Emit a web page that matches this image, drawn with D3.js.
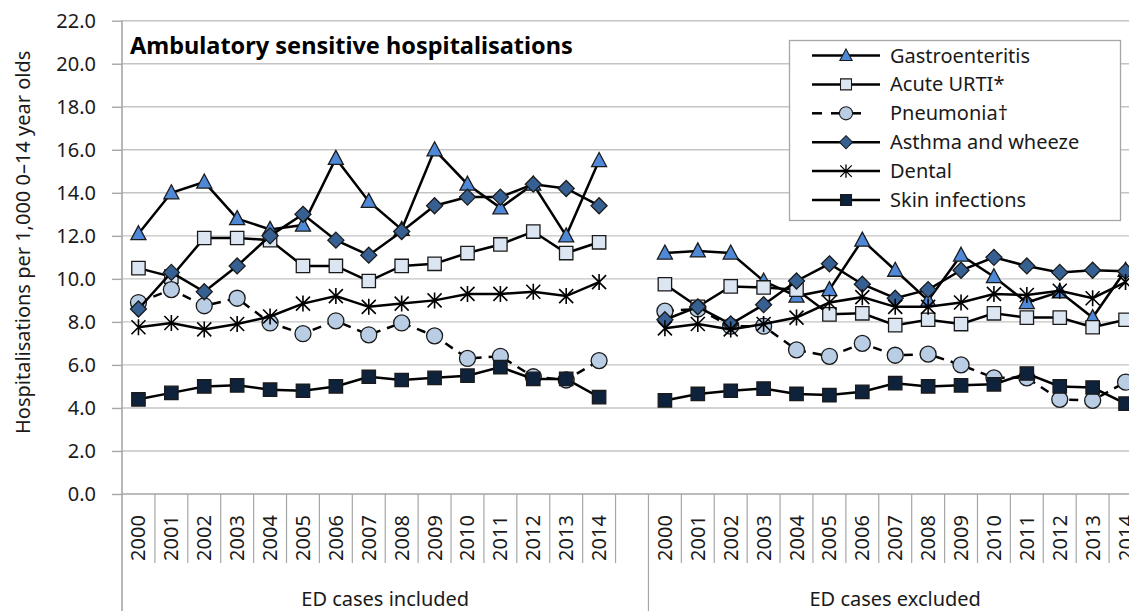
<!DOCTYPE html>
<html>
<head>
<meta charset="utf-8">
<script src="https://cdn.jsdelivr.net/npm/d3@7"></script>
<style>
  body { margin: 0; background: #fff; }
  svg { display: block; font-family: "Noto Sans", "Open Sans", sans-serif; }
</style>
</head>
<body>
<div id="chart"></div>
<script>
// Ambulatory sensitive hospitalisations, two groups of years side by side.

const years = ["2000", "2001", "2002", "2003", "2004", "2005", "2006", "2007",
               "2008", "2009", "2010", "2011", "2012", "2013", "2014"];
const groups = ["ED cases included", "ED cases excluded"];
const yTicks = [0, 2, 4, 6, 8, 10, 12, 14, 16, 18, 20, 22];

const gastroIncl = [12.1, 14.0, 14.5, 12.8, 12.3, 12.5, 15.6, 13.6, 12.3, 16.0, 14.4, 13.3, 14.4, 12.0, 15.5];
const gastroExcl = [11.2, 11.3, 11.2, 9.9, 9.2, 9.5, 11.8, 10.4, 9.0, 11.1, 10.1, 8.9, 9.4, 8.2, 10.4];
const urtiIncl = [10.5, 10.1, 11.9, 11.9, 11.8, 10.6, 10.6, 9.9, 10.6, 10.7, 11.2, 11.6, 12.2, 11.2, 11.7];
const urtiExcl = [9.75, 8.7, 9.65, 9.6, 9.5, 8.35, 8.4, 7.85, 8.1, 7.9, 8.4, 8.2, 8.2, 7.75, 8.1];
const pneuIncl = [8.9, 9.5, 8.75, 9.1, 7.95, 7.45, 8.05, 7.4, 7.95, 7.35, 6.3, 6.4, 5.45, 5.3, 6.2];
const pneuExcl = [8.5, 8.6, 7.8, 7.8, 6.7, 6.4, 7.0, 6.45, 6.5, 6.0, 5.4, 5.4, 4.4, 4.35, 5.2];
const asthmaIncl = [8.6, 10.3, 9.4, 10.6, 12.0, 13.0, 11.8, 11.1, 12.2, 13.4, 13.8, 13.8, 14.4, 14.2, 13.4];
const asthmaExcl = [8.1, 8.7, 7.9, 8.8, 9.9, 10.7, 9.75, 9.1, 9.5, 10.4, 11.0, 10.6, 10.3, 10.4, 10.35];
const dentalIncl = [7.75, 7.95, 7.65, 7.9, 8.25, 8.85, 9.2, 8.7, 8.85, 9.0, 9.3, 9.3, 9.4, 9.2, 9.85];
const dentalExcl = [7.7, 7.9, 7.65, 7.9, 8.2, 8.9, 9.15, 8.7, 8.7, 8.9, 9.3, 9.25, 9.45, 9.1, 9.85];
const skinIncl = [4.4, 4.7, 5.0, 5.05, 4.85, 4.8, 5.0, 5.45, 5.3, 5.4, 5.5, 5.9, 5.35, 5.35, 4.5];
const skinExcl = [4.35, 4.65, 4.8, 4.9, 4.65, 4.6, 4.75, 5.15, 5.0, 5.05, 5.1, 5.6, 5.0, 4.95, 4.2];

// marker shapes, drawn around (0,0)
const shapes = {
    triangle: "M0,-8L7.5,6L-7.5,6Z",
    square: "M-6.7,-6.7H6.7V6.7H-6.7Z",
    diamond: "M0,-8L8,0L0,8L-8,0Z",
    circle: "M8,0A8,8 0 1,1 -8,0A8,8 0 1,1 8,0Z",
    star: "M0,-8V8M-7,-7L7,7M7,-7L-7,7"
};

const series = [
    {name: "Gastroenteritis", incl: gastroIncl, excl: gastroExcl, shape: "triangle", fill: "#4f88d6", dash: null},
    {name: "Acute URTI*", incl: urtiIncl, excl: urtiExcl, shape: "square", fill: "#dce6f2", dash: null},
    {name: "Pneumonia\u2020", incl: pneuIncl, excl: pneuExcl, shape: "circle", fill: "#b9cde5", dash: "9,7"},
    {name: "Asthma and wheeze", incl: asthmaIncl, excl: asthmaExcl, shape: "diamond", fill: "#376092", dash: null},
    {name: "Dental", incl: dentalIncl, excl: dentalExcl, shape: "star", fill: "none", dash: null},
    {name: "Skin infections", incl: skinIncl, excl: skinExcl, shape: "square", fill: "#0f223b", dash: null}
];

const W = 1129, H = 611;
const plotLeft = 122, plotTop = 20.7, plotBottom = 494, plotRight = 1142;

const svg = d3.select("#chart").append("svg")
    .attr("width", W).attr("height", H);

// categories: the included years, an empty slot, then the excluded years
const cats = years.map(d => "inc" + d).concat(["gap"], years.map(d => "exc" + d));
const x = d3.scaleBand().domain(cats).range([plotLeft, plotRight]).padding(0);
const y = d3.scaleLinear().domain([0, 22]).range([plotBottom, plotTop]);

// gridlines
svg.append("g").selectAll("line")
    .data(yTicks.filter(d => d > 0))
    .join("line")
    .attr("x1", plotLeft).attr("x2", W)
    .attr("y1", d => y(d)).attr("y2", d => y(d))
    .attr("stroke", "#c4c4c4").attr("stroke-width", 1.4);

// y axis
const yAxis = svg.append("g")
    .attr("transform", `translate(${plotLeft},0)`)
    .call(d3.axisLeft(y).tickValues(yTicks).tickFormat(d3.format(".1f")).tickSize(10).tickPadding(16));
yAxis.select(".domain").remove();
yAxis.selectAll("line").attr("stroke", "#a6a6a6").attr("stroke-width", 1.4);
yAxis.selectAll("text").attr("font-size", 20).attr("fill", "#1a1a1a")
    .attr("font-family", "'Noto Sans', sans-serif");
svg.append("line").attr("x1", plotLeft).attr("x2", plotLeft).attr("y1", plotTop).attr("y2", H)
    .attr("stroke", "#a6a6a6").attr("stroke-width", 1.6);

// category axis
svg.append("line").attr("x1", plotLeft).attr("x2", W).attr("y1", plotBottom).attr("y2", plotBottom)
    .attr("stroke", "#a6a6a6").attr("stroke-width", 1.6);

const bounds = cats.map(c => x(c) + x.bandwidth());
svg.append("g").selectAll("line")
    .data(bounds)
    .join("line")
    .attr("x1", d => d).attr("x2", d => d)
    .attr("y1", plotBottom)
    .attr("y2", (d, i) => cats[i] === "gap" ? H : 563)
    .attr("stroke", "#a6a6a6").attr("stroke-width", 1.2);

svg.append("g").selectAll("text")
    .data(cats.filter(c => c !== "gap"))
    .join("text")
    .attr("transform", d => `translate(${x(d) + x.bandwidth() / 2},538) rotate(-90)`)
    .attr("text-anchor", "middle")
    .attr("dy", "0.35em")
    .attr("font-size", 20).attr("fill", "#1a1a1a")
    .text(d => d.slice(3));

// group labels
const groupSpans = [[x("inc2000"), x("exc2000")], [x("exc2000"), plotRight]];
svg.append("g").selectAll("text")
    .data(groups)
    .join("text")
    .attr("x", (d, i) => (groupSpans[i][0] + groupSpans[i][1]) / 2)
    .attr("y", 606)
    .attr("text-anchor", "middle")
    .attr("font-size", 20).attr("fill", "#1a1a1a")
    .text(d => d);

// y axis title
svg.append("text")
    .attr("transform", `translate(30,${(plotTop + plotBottom) / 2 - 15}) rotate(-90)`)
    .attr("text-anchor", "middle")
    .attr("font-size", 20).attr("fill", "#1a1a1a")
    .text("Hospitalisations per 1,000 0\u201314 year olds");

// title
svg.append("text")
    .attr("x", 130).attr("y", 54)
    .attr("font-size", 23.5).attr("font-weight", "bold").attr("fill", "#000")
    .text("Ambulatory sensitive hospitalisations");

// lines and markers, series by series
const line = d3.line()
    .x(d => x(d.cat) + x.bandwidth() / 2)
    .y(d => y(d.v));

function drawMarker(g, s, k) {
    g.append("path")
        .attr("d", shapes[s.shape])
        .attr("transform", k ? `scale(${k})` : null)
        .attr("fill", s.fill)
        .attr("stroke", s.shape === "star" ? "#000" : "#1a1a1a")
        .attr("stroke-width", s.shape === "star" ? 1.6 : 1.3);
}

series.forEach(s => {
    const g = svg.append("g");
    [["inc", s.incl], ["exc", s.excl]].forEach(([pre, vals]) => {
        const pts = vals.map((v, i) => ({cat: pre + years[i], v: v}));
        g.append("path")
            .attr("d", line(pts))
            .attr("fill", "none")
            .attr("stroke", "#000")
            .attr("stroke-width", 2.5)
            .attr("stroke-dasharray", s.dash);
        pts.forEach(p => {
            const m = g.append("g")
                .attr("transform", `translate(${x(p.cat) + x.bandwidth() / 2},${y(p.v)})`);
            drawMarker(m, s);
        });
    });
});

// legend
const leg = svg.append("g");
leg.append("rect")
    .attr("x", 789.5).attr("y", 40.5).attr("width", 331).attr("height", 180)
    .attr("fill", "#fff").attr("stroke", "#a6a6a6").attr("stroke-width", 1.3);
series.forEach((s, i) => {
    const ly = 55.5 + i * 28.9;
    const row = leg.append("g");
    if (s.dash) {
        row.append("line").attr("x1", 812).attr("x2", 822).attr("y1", ly).attr("y2", ly)
            .attr("stroke", "#000").attr("stroke-width", 2.5);
        row.append("line").attr("x1", 831).attr("x2", 861).attr("y1", ly).attr("y2", ly)
            .attr("stroke", "#000").attr("stroke-width", 2.5);
    } else {
        row.append("line").attr("x1", 812).attr("x2", 880).attr("y1", ly).attr("y2", ly)
            .attr("stroke", "#000").attr("stroke-width", 2.5);
    }
    const m = row.append("g").attr("transform", `translate(846,${ly})`);
    drawMarker(m, s, 0.82);
    row.append("text")
        .attr("x", 890).attr("y", ly).attr("dy", "0.35em")
        .attr("font-size", 20).attr("fill", "#1a1a1a")
        .text(s.name);
});
</script>
</body>
</html>
